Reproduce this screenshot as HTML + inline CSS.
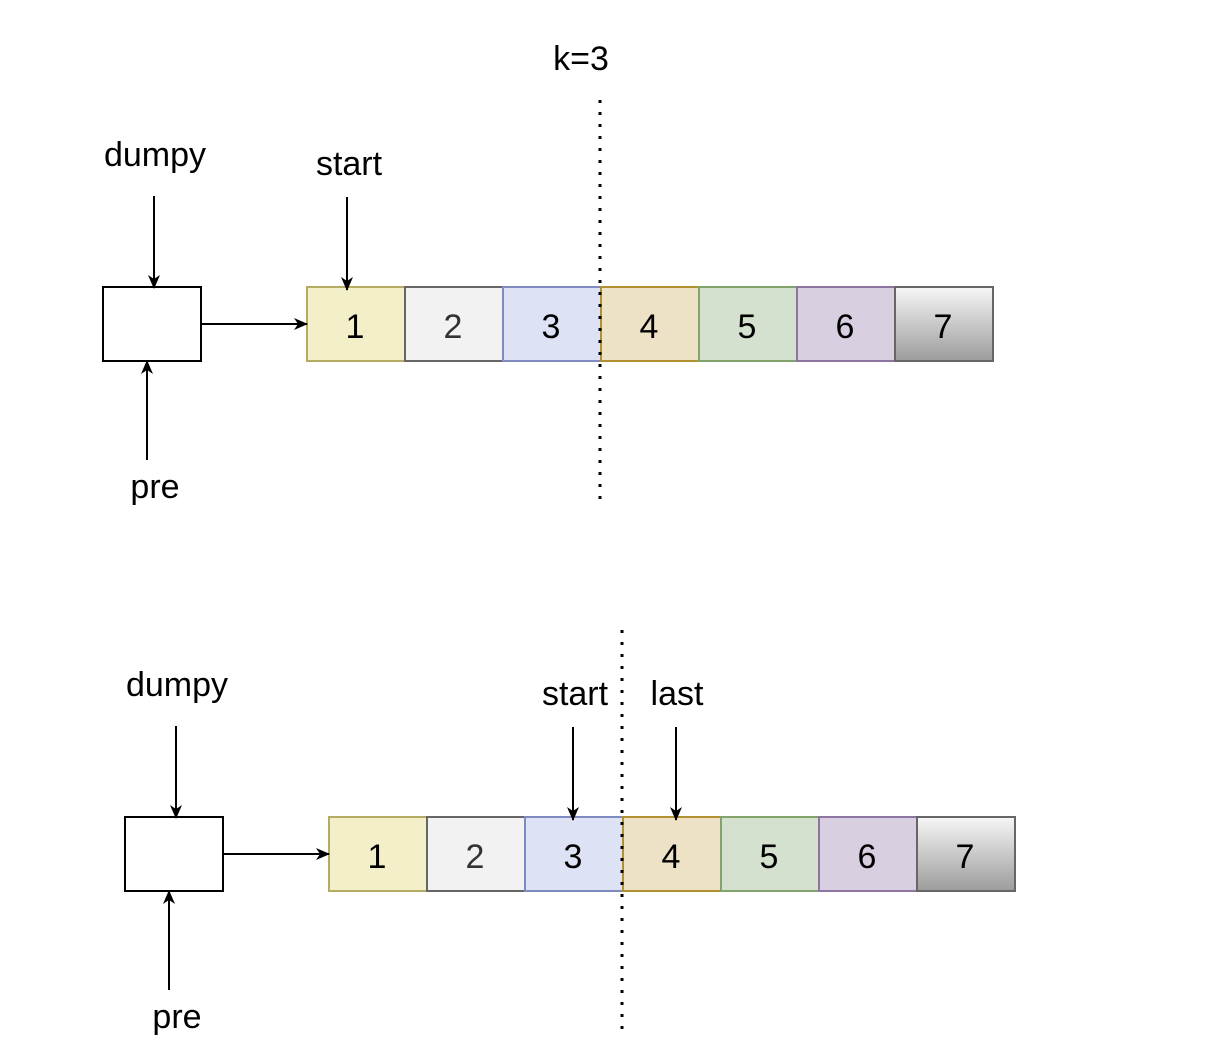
<!DOCTYPE html>
<html><head><meta charset="utf-8"><style>
body{margin:0;background:#fff;}
svg{display:block;font-family:"Liberation Sans",Arial,sans-serif;}
</style></head><body>
<svg width="1208" height="1056" viewBox="0 0 1208 1056" xmlns="http://www.w3.org/2000/svg">
<defs>
<linearGradient id="g" x1="0" y1="0" x2="0" y2="1"><stop offset="0" stop-color="#f6f6f6"/><stop offset="1" stop-color="#9c9c9c"/></linearGradient>
<marker id="a" markerWidth="14" markerHeight="14" refX="13" refY="7" orient="auto" markerUnits="userSpaceOnUse"><path d="M0,1 L14,7 L0,13 L4,7 Z" fill="#000"/></marker>
<g id="row">
<rect x="0" y="0" width="98" height="74" fill="#f2efc9" stroke="#b5ab62" stroke-width="2"/>
<rect x="98" y="0" width="98" height="74" fill="#f2f2f2" stroke="#666" stroke-width="2"/>
<rect x="196" y="0" width="98" height="74" fill="#dde2f5" stroke="#7f8bc0" stroke-width="2"/>
<rect x="294" y="0" width="98" height="74" fill="#ede2c6" stroke="#b09030" stroke-width="2"/>
<rect x="392" y="0" width="98" height="74" fill="#d4e1cf" stroke="#82a36b" stroke-width="2"/>
<rect x="490" y="0" width="98" height="74" fill="#d8cfe0" stroke="#8e74a0" stroke-width="2"/>
<rect x="588" y="0" width="98" height="74" fill="url(#g)" stroke="#666" stroke-width="2"/>
<g font-size="34" text-anchor="middle">
<text x="48" y="51">1</text><text x="146" y="51" fill="#333">2</text><text x="244" y="51">3</text><text x="342" y="51">4</text><text x="440" y="51">5</text><text x="538" y="51">6</text><text x="636" y="51">7</text>
</g>
</g>
</defs>
<!-- top -->
<text x="581" y="70" font-size="34" text-anchor="middle">k=3</text>
<text x="155" y="166" font-size="34" text-anchor="middle">dumpy</text>
<text x="349" y="175" font-size="34" text-anchor="middle">start</text>
<text x="155" y="498" font-size="34" text-anchor="middle">pre</text>
<rect x="103" y="287" width="98" height="74" fill="#fff" stroke="#000" stroke-width="2"/>
<use href="#row" x="307" y="287"/>
<line x1="154" y1="196" x2="154" y2="288" stroke="#000" stroke-width="2" marker-end="url(#a)"/>
<line x1="147" y1="460" x2="147" y2="361" stroke="#000" stroke-width="2" marker-end="url(#a)"/>
<line x1="347" y1="197" x2="347" y2="290" stroke="#000" stroke-width="2" marker-end="url(#a)"/>
<line x1="202" y1="324" x2="307" y2="324" stroke="#000" stroke-width="2" marker-end="url(#a)"/>
<line x1="600" y1="100" x2="600" y2="503" stroke="#000" stroke-width="3" stroke-dasharray="3,9"/>
<!-- bottom -->
<text x="177" y="696" font-size="34" text-anchor="middle">dumpy</text>
<text x="575" y="705" font-size="34" text-anchor="middle">start</text>
<text x="677" y="705" font-size="34" text-anchor="middle">last</text>
<text x="177" y="1028" font-size="34" text-anchor="middle">pre</text>
<rect x="125" y="817" width="98" height="74" fill="#fff" stroke="#000" stroke-width="2"/>
<use href="#row" x="329" y="817"/>
<line x1="176" y1="726" x2="176" y2="818" stroke="#000" stroke-width="2" marker-end="url(#a)"/>
<line x1="169" y1="990" x2="169" y2="891" stroke="#000" stroke-width="2" marker-end="url(#a)"/>
<line x1="573" y1="727" x2="573" y2="820" stroke="#000" stroke-width="2" marker-end="url(#a)"/>
<line x1="676" y1="727" x2="676" y2="820" stroke="#000" stroke-width="2" marker-end="url(#a)"/>
<line x1="224" y1="854" x2="329" y2="854" stroke="#000" stroke-width="2" marker-end="url(#a)"/>
<line x1="622" y1="630" x2="622" y2="1033" stroke="#000" stroke-width="3" stroke-dasharray="3,9"/>
</svg>
</body></html>
